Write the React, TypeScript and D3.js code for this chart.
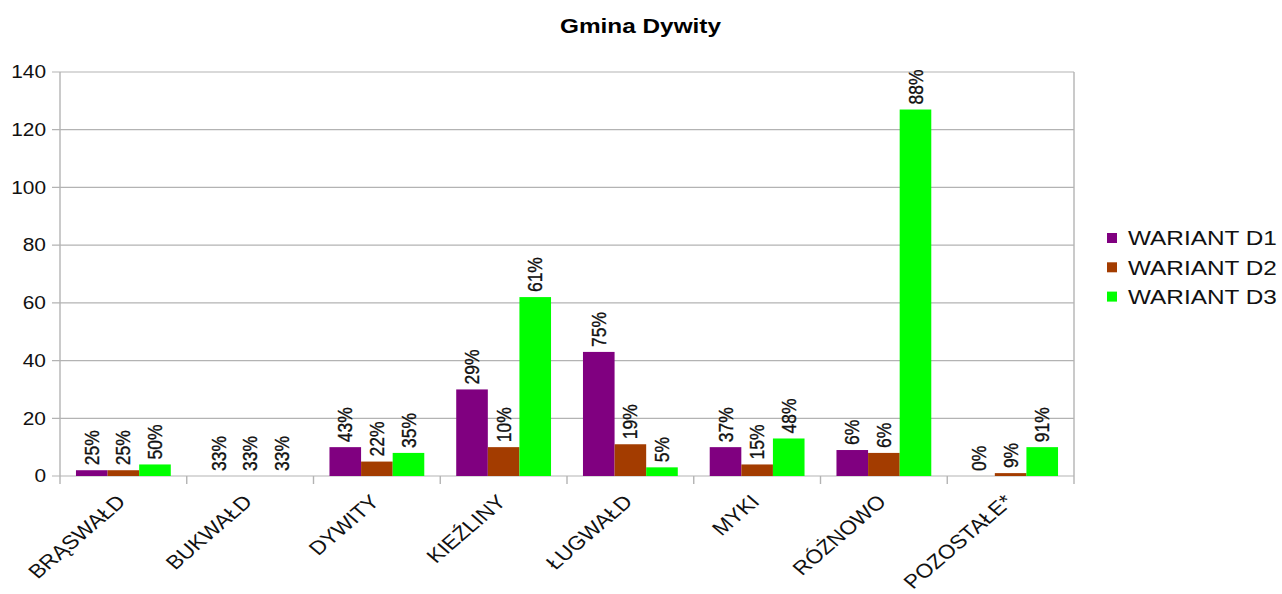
import React from 'react';
import { scaleBand, scaleLinear, range } from 'd3';

// values
const categories = ['BRĄSWAŁD', 'BUKWAŁD', 'DYWITY', 'KIEŹLINY', 'ŁUGWAŁD', 'MYKI', 'RÓŻNOWO', 'POZOSTAŁE*'];
const seriesNames = ['WARIANT D1', 'WARIANT D2', 'WARIANT D3'];
const wariantD1 = [2, 0, 10, 30, 43, 10, 9, 0];
const wariantD2 = [2, 0, 5, 10, 11, 4, 8, 1];
const wariantD3 = [4, 0, 8, 62, 3, 13, 127, 10];
const yTicks = [0, 20, 40, 60, 80, 100, 120, 140];
const colors = ['#800080', '#a33c00', '#00ff00'];

const W = 1282;
const H = 594;
const SX = 1.16; // source picture is stretched horizontally
const LW = W / SX;
const font = '"Liberation Sans", Arial, sans-serif';

const plot = { left: 60 / SX, right: 1074 / SX, top: 72, bottom: 476 };

const App = () => {
  const series = [wariantD1, wariantD2, wariantD3];

  const x = scaleBand<string>()
    .domain(categories)
    .range([plot.left, plot.right]);
  const bw = x.bandwidth();
  const xSub = scaleBand<number>()
    .domain(range(series.length))
    .range([bw * 0.126, bw * 0.874]);
  const y = scaleLinear().domain([0, 140]).range([plot.bottom, plot.top]);

  const pct = (ci: number, si: number) => {
    const total = series.reduce((s, arr) => s + arr[ci], 0);
    const p = total ? series[si][ci] / total : 1 / series.length;
    return `${Math.round(p * 100)}%`;
  };

  const boundaries = range(categories.length + 1).map(i => plot.left + i * bw);

  return (
    <svg
      width={W}
      height={H}
      viewBox={`0 0 ${LW} ${H}`}
      preserveAspectRatio="none"
      style={{ position: 'absolute', left: 0, top: 0, background: '#fff' }}
    >
      <text x={640.5 / SX} y={33} textAnchor="middle" fontFamily={font} fontWeight="bold" fontSize={21}>
        Gmina Dywity
      </text>

      {/* grid + y axis */}
      {yTicks.map(t => (
        <g key={t}>
          <line x1={plot.left - 8 / SX} x2={plot.right} y1={y(t)} y2={y(t)} stroke="#b3b3b3" strokeWidth={1.2} />
          <text x={plot.left - 14 / SX} y={y(t)} dy="0.35em" textAnchor="end" fontFamily={font} fontSize={18} fill="#111">
            {t}
          </text>
        </g>
      ))}
      <line x1={plot.left} x2={plot.left} y1={plot.top} y2={plot.bottom} stroke="#b3b3b3" strokeWidth={1.2} />
      <line x1={plot.right} x2={plot.right} y1={plot.top} y2={plot.bottom} stroke="#b3b3b3" strokeWidth={1.2} />
      {boundaries.map((bx, i) => (
        <line key={i} x1={bx} x2={bx} y1={plot.bottom} y2={plot.bottom + 8} stroke="#b3b3b3" strokeWidth={1.2} />
      ))}

      {/* bars */}
      {categories.map((c, ci) => (
        <g key={c} transform={`translate(${x(c)},0)`}>
          {series.map((arr, si) => (
            <rect
              key={si}
              x={xSub(si)}
              y={y(arr[ci])}
              width={xSub.bandwidth()}
              height={plot.bottom - y(arr[ci])}
              fill={colors[si]}
            />
          ))}
          {series.map((arr, si) => {
            const cx = (xSub(si) as number) + xSub.bandwidth() / 2;
            const cy = y(arr[ci]) - 5;
            return (
              <text
                key={'l' + si}
                transform={`translate(${cx},${cy}) rotate(-90)`}
                dy="0.35em"
                fontFamily={font}
                fontSize={17.5}
                fill="#111"
                stroke="#111"
                strokeWidth={0.3}
              >
                {pct(ci, si)}
              </text>
            );
          })}
        </g>
      ))}

      {/* category labels */}
      {categories.map(c => (
        <text
          key={'c' + c}
          transform={`translate(${(x(c) as number) + bw / 2 + 3},503) rotate(-45)`}
          textAnchor="end"
          fontFamily={font}
          fontSize={19.5}
          fill="#111"
        >
          {c}
        </text>
      ))}

      {/* legend */}
      {seriesNames.map((n, i) => (
        <g key={n} transform={`translate(0,${238 + i * 29.3})`}>
          <rect x={1107 / SX} y={-5} width={10 / SX} height={10} fill={colors[i]} />
          <text x={1128 / SX} y={0} dy="0.35em" fontFamily={font} fontSize={21} fill="#111">
            {n}
          </text>
        </g>
      ))}
    </svg>
  );
};

export default App;
